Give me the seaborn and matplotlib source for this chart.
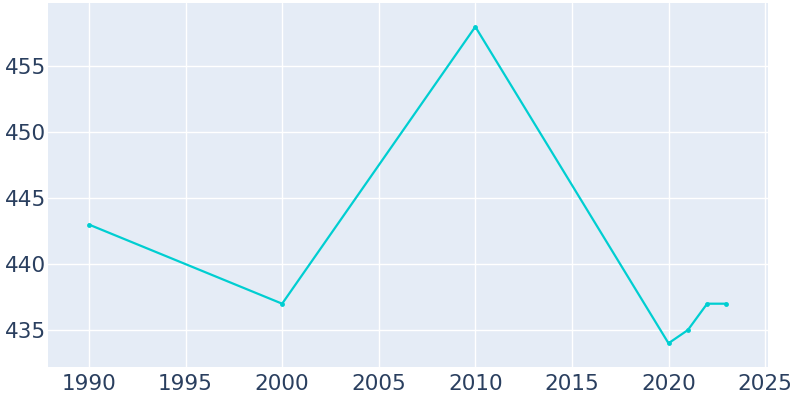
import matplotlib
matplotlib.use("Agg")
import matplotlib.pyplot as plt
import seaborn as sns
import pandas as pd

years = [1990, 2000, 2010, 2020, 2021, 2022, 2023]
population = [443, 437, 458, 434, 435, 437, 437]

df = pd.DataFrame({"year": years, "population": population})

sns.set_style("darkgrid", {"axes.facecolor": "#E5ECF6", "grid.color": "white"})
plt.rcParams["font.family"] = ["DejaVu Sans"]

fig = plt.figure(figsize=(8, 4), dpi=100)
ax = fig.add_axes([0.06, 0.0825, 0.90, 0.91])

sns.lineplot(data=df, x="year", y="population", ax=ax, color="#00CED1",
             linewidth=1.6, marker="o", markersize=3.5, markeredgewidth=0)

ax.set_xlim(1987.88, 2025.15)
ax.set_ylim(432.2, 459.8)
ax.set_xticks([1990, 1995, 2000, 2005, 2010, 2015, 2020, 2025])
ax.set_yticks([435, 440, 445, 450, 455])
ax.set_xlabel("")
ax.set_ylabel("")
ax.grid(True, color="white", linewidth=1)
for s in ax.spines.values():
    s.set_visible(False)
ax.tick_params(axis="both", length=0, labelsize=15.5, colors="#2a3f5f")
ax.tick_params(axis="x", pad=5)
ax.tick_params(axis="y", pad=1.5)

fig.savefig("out.png", dpi=100)
